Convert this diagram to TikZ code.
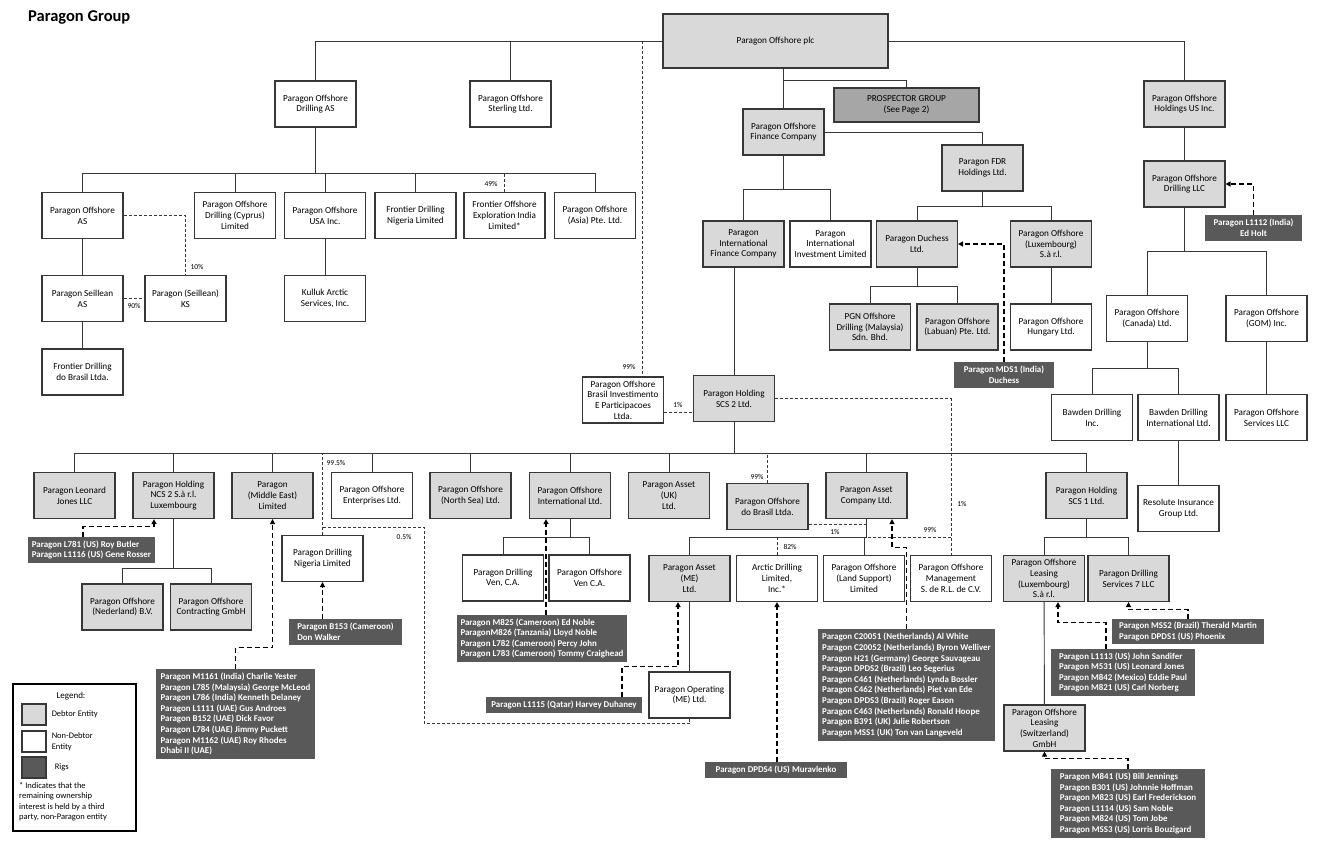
\documentclass[tikz,border=0pt]{standalone}
\usepackage{fontspec}
\setmainfont{Carlito}
\usepackage{xcolor}
\usepackage{tikz}
\usetikzlibrary{positioning,calc,arrows.meta}
\definecolor{DebtGray}{RGB}{217,217,217}
\definecolor{ProspGray}{RGB}{166,166,166}
\definecolor{RigGray}{RGB}{89,89,89}
\definecolor{LineGray}{RGB}{55,55,55}

\begin{document}
\begin{tikzpicture}[x=1pt,y=-1pt]
					\tikzset{
						ent/.style={draw=LineGray, line width=1.1pt, minimum width=81pt, minimum height=46pt,
							inner sep=1pt, align=center, font=\fontsize{9.2}{10.7}\selectfont},
						deb/.style={ent, fill=DebtGray},
						nondeb/.style={ent, fill=white},
						rig/.style={fill=RigGray, text=white, font=\fontsize{8.9}{10.6}\selectfont\bfseries,
							inner xsep=3pt, inner ysep=1pt, align=left},
						e/.style={draw=LineGray, line width=0.9pt},
						own/.style={draw=LineGray, line width=0.7pt, dash pattern=on 3pt off 2pt},
						rarr/.style={draw=black, line width=1.3pt, dash pattern=on 5pt off 3pt,
							-{Triangle[length=5pt,width=5pt]}},
						pct/.style={font=\fontsize{7.5}{9}\selectfont, inner sep=0pt}
					}
					\useasboundingbox (0,0) rectangle (1331,847);
					
					\node[font=\fontsize{16.5}{20}\selectfont\bfseries, anchor=west, inner sep=0pt] (title) at (28,17) {Paragon Group};
					
					\node[deb, minimum width=225pt, minimum height=54pt] (plc) at (775.5,41) {Paragon Offshore plc};
					\node[nondeb] (das) at (315.5,104) {Paragon Offshore\\Drilling AS};
					\node[nondeb] (pos) at (510.5,104) {Paragon Offshore\\Sterling Ltd.};
					\node[deb] (hus) at (1184.5,104) {Paragon Offshore\\Holdings US Inc.};
					\node[ent, fill=ProspGray, minimum width=145pt, minimum height=34pt] (prosp) at (906.5,105) {PROSPECTOR GROUP\\(See Page 2)};
					\node[deb] (pofc) at (783.5,132) {Paragon Offshore\\Finance Company};
					\node[deb] (fdr) at (982.5,168) {Paragon FDR\\Holdings Ltd.};
					\node[deb] (llc) at (1184.5,184) {Paragon Offshore\\Drilling LLC};
					\node[rig, align=center, minimum width=97pt, minimum height=26pt] (r1112) at (1253.5,228) {Paragon L1112 (India)\\Ed Holt};
					
					\node[nondeb] (oas) at (82.5,215.5) {Paragon Offshore\\AS};
					\node[nondeb] (cyp) at (235,215.5) {Paragon Offshore\\Drilling (Cyprus)\\Limited};
					\node[nondeb] (usa) at (325,215.5) {Paragon Offshore\\USA Inc.};
					\node[nondeb] (fdn) at (415.5,215.5) {Frontier Drilling\\Nigeria Limited};
					\node[nondeb] (foe) at (504.5,215.5) {Frontier Offshore\\Exploration India\\Limited*};
					\node[nondeb] (asia) at (595,215.5) {Paragon Offshore\\(Asia) Pte. Ltd.};
					\node[deb] (pifc) at (743.5,244) {Paragon\\International\\Finance Company};
					\node[nondeb] (piil) at (830.5,244) {Paragon\\International\\Investment Limited};
					\node[deb] (duch) at (917,244) {Paragon Duchess\\Ltd.};
					\node[deb] (lux) at (1051,244) {Paragon Offshore\\(Luxembourg)\\S.à r.l.};
					
					\node[nondeb] (sas) at (82.5,298.5) {Paragon Seillean\\AS};
					\node[nondeb] (sks) at (185.5,298.5) {Paragon (Seillean)\\KS};
					\node[nondeb] (kul) at (325,298.5) {Kulluk Arctic\\Services, Inc.};
					\node[nondeb] (can) at (1147,318.5) {Paragon Offshore\\(Canada) Ltd.};
					\node[nondeb] (gom) at (1266.5,318.5) {Paragon Offshore\\(GOM) Inc.};
					\node[deb] (pgn) at (870,327) {PGN Offshore\\Drilling (Malaysia)\\Sdn. Bhd.};
					\node[deb] (lab) at (957.5,327) {Paragon Offshore\\(Labuan) Pte. Ltd.};
					\node[nondeb] (hun) at (1051,327) {Paragon Offshore\\Hungary Ltd.};
					\node[nondeb] (fdb) at (82.5,372) {Frontier Drilling\\do Brasil Ltda.};
					\node[rig, align=center, minimum width=100pt, minimum height=26pt] (rmds1) at (1004,375) {Paragon MDS1 (India)\\Duchess};
					\node[nondeb] (brinv) at (623,400) {Paragon Offshore\\Brasil Investimento\\E Participacoes\\Ltda.};
					\node[deb] (hscs2) at (734,398.5) {Paragon Holding\\SCS 2 Ltd.};
					\node[nondeb] (bdi) at (1092,417.5) {Bawden Drilling\\Inc.};
					\node[nondeb] (bdii) at (1178.5,417.5) {Bawden Drilling\\International Ltd.};
					\node[nondeb] (poss) at (1266.5,417.5) {Paragon Offshore\\Services LLC};
					
					\node[deb] (plj) at (74.5,495.5) {Paragon Leonard\\Jones LLC};
					\node[deb] (ncs2) at (173.5,495.5) {Paragon Holding\\NCS 2 S.à r.l.\\Luxembourg};
					\node[deb] (pme) at (272.5,495.5) {Paragon\\(Middle East)\\Limited};
					\node[nondeb] (poe) at (372,495.5) {Paragon Offshore\\Enterprises Ltd.};
					\node[deb] (pns) at (470.5,495.5) {Paragon Offshore\\(North Sea) Ltd.};
					\node[deb] (poi) at (570,495.5) {Paragon Offshore\\International Ltd.};
					\node[deb] (pauk) at (669,495.5) {Paragon Asset\\(UK)\\Ltd.};
					\node[deb] (pdb) at (767.5,506.5) {Paragon Offshore\\do Brasil Ltda.};
					\node[deb] (pac) at (866.5,495.5) {Paragon Asset\\Company Ltd.};
					\node[deb] (hscs1) at (1086.5,495.5) {Paragon Holding\\SCS 1 Ltd.};
					\node[nondeb] (res) at (1178.5,508.5) {Resolute Insurance\\Group Ltd.};
					\node[rig, minimum width=127pt, minimum height=26pt] (r781) at (91.5,550) {Paragon L781 (US) Roy Butler\\Paragon L1116 (US) Gene Rosser};
					\node[nondeb] (pdn) at (322.5,558.5) {Paragon Drilling\\Nigeria Limited};
					
					\node[nondeb] (pdv) at (503,578) {Paragon Drilling\\Ven, C.A.};
					\node[nondeb] (pov) at (589.5,578) {Paragon Offshore\\Ven C.A.};
					\node[deb] (pame) at (689.5,578.5) {Paragon Asset\\(ME)\\Ltd.};
					\node[nondeb] (arc) at (777,578.5) {Arctic Drilling\\Limited,\\Inc.*};
					\node[nondeb] (pls) at (864,578.5) {Paragon Offshore\\(Land Support)\\Limited};
					\node[nondeb] (pom) at (951,578.5) {Paragon Offshore\\Management\\S. de R.L. de C.V.};
					\node[deb] (pll) at (1044,578.5) {Paragon Offshore\\Leasing\\(Luxembourg)\\S.à r.l.};
					\node[deb] (pds7) at (1128.5,578.5) {Paragon Drilling\\Services 7 LLC};
					\node[deb] (ned) at (122.5,607) {Paragon Offshore\\(Nederland) B.V.};
					\node[deb] (cgm) at (211,607) {Paragon Offshore\\Contracting GmbH};
					
					\node[rig, minimum width=113pt, minimum height=26pt] (r153) at (345.5,632) {Paragon B153 (Cameroon)\\Don Walker};
					\node[rig, minimum width=170pt, minimum height=47pt] (r825) at (542,638.5) {Paragon M825 (Cameroon) Ed Noble\\ParagonM826 (Tanzania) Lloyd Noble\\Paragon L782 (Cameroon) Percy John\\Paragon L783 (Cameroon) Tommy Craighead};
					\node[rig, minimum width=152pt, minimum height=25pt] (rmss2) at (1188,631.5) {Paragon MSS2 (Brazil) Therald Martin\\Paragon DPDS1 (US) Phoenix};
					\node[rig, minimum width=177pt, minimum height=112pt] (rc) at (906.5,685) {Paragon C20051 (Netherlands) Al White\\Paragon C20052 (Netherlands) Byron Welliver\\Paragon H21 (Germany) George Sauvageau\\Paragon DPDS2 (Brazil) Leo Segerius\\Paragon C461 (Netherlands) Lynda Bossler\\Paragon C462 (Netherlands) Piet van Ede\\Paragon DPDS3 (Brazil) Roger Eason\\Paragon C463 (Netherlands) Ronald Hoope\\Paragon B391 (UK) Julie Robertson\\Paragon MSS1 (UK) Ton van Langeveld};
					\node[rig, minimum width=144pt, minimum height=47pt] (r1113) at (1123,672.5) {Paragon L1113 (US) John Sandifer\\Paragon M531 (US) Leonard Jones\\Paragon M842 (Mexico) Eddie Paul\\Paragon M821 (US) Carl Norberg};
					\node[nondeb] (pop) at (689.5,695) {Paragon Operating\\(ME) Ltd.};
					\node[rig, align=center, minimum width=156pt, minimum height=16pt] (r1115) at (564,705) {Paragon L1115 (Qatar) Harvey Duhaney};
					\node[rig, minimum width=159pt, minimum height=90pt] (r1161) at (235.5,714) {Paragon M1161 (India) Charlie Yester\\Paragon L785 (Malaysia) George McLeod\\Paragon L786 (India) Kenneth Delaney\\Paragon L1111 (UAE) Gus Androes\\Paragon B152 (UAE) Dick Favor\\Paragon L784 (UAE) Jimmy Puckett\\Paragon M1162 (UAE) Roy Rhodes\\Dhabi II (UAE)};
					\node[deb] (plsw) at (1044.5,728) {Paragon Offshore\\Leasing\\(Switzerland)\\GmbH};
					\node[rig, align=center, minimum width=142pt, minimum height=16pt] (rdpds4) at (776,770) {Paragon DPDS4 (US) Muravlenko};
					\node[rig, minimum width=154pt, minimum height=69pt] (r841) at (1128,803.5) {Paragon M841 (US) Bill Jennings\\Paragon B301 (US) Johnnie Hoffman\\Paragon M823 (US) Earl Frederickson\\Paragon L1114 (US) Sam Noble\\Paragon M824 (US) Tom Jobe\\Paragon MSS3 (US) Lorris Bouzigard};
					
					\node[draw=black, line width=1.6pt, minimum width=123pt, minimum height=147pt] (leg) at (74.5,757.5) {};
					\node[font=\fontsize{9}{10.7}\selectfont] (legt) at (71,696) {Legend:};
					\node[ent, fill=DebtGray, minimum width=24pt, minimum height=21pt] (ld) at (34,714.5) {};
					\node[ent, fill=white, minimum width=24pt, minimum height=21pt] (ln) at (34,741.5) {};
					\node[ent, fill=RigGray, minimum width=24pt, minimum height=21pt] (lr) at (34,767.5) {};
					\node[right=5pt of ld, align=left, inner sep=0pt, font=\fontsize{8.5}{10.5}\selectfont] (ldt) {Debtor Entity};
					\node[right=5pt of ln, align=left, inner sep=0pt, font=\fontsize{8.5}{10.5}\selectfont] (lnt) {Non-Debtor\\Entity};
					\node[right=8pt of lr, align=left, inner sep=0pt, font=\fontsize{8.5}{10.5}\selectfont] (lrt) {Rigs};
					\node[anchor=north west, align=left, inner sep=0pt, font=\fontsize{8.5}{10.5}\selectfont] (lnote) at (19,782) {* Indicates that the\\remaining ownership\\interest is held by a third\\party, non-Paragon entity};
					
					\coordinate (b1) at (0,173);
					\coordinate (b2) at (0,189);
					\coordinate (b3) at (0,206);
					\coordinate (b4) at (0,251);
					\coordinate (b7) at (0,286);
					\coordinate (b8) at (0,368);
					\coordinate (b5) at (0,453);
					\coordinate (b6) at (0,537);
					\coordinate (b9) at (0,568);
					\coordinate (jp) at (783.5,80);
					\coordinate (d99) at (642,41);
					\coordinate (j05) at (424,527);
					
					\draw[e] (das.north) |- (plc.west);
					\draw[e] (pos.north) -- (pos.north |- plc.west);
					\draw[e] (plc.east) -| (hus.north);
					\draw[e] (plc.south -| pofc.north) -- (pofc.north);
					\draw[e] (jp) -| (prosp.north);
					\draw[e] (pofc.east) -| (fdr.north);
					\draw[e] (pofc.south) -- (pofc.south |- b2);
					\draw[e] (pifc.north) -- (pifc.north |- b2) -| (piil.north);
					\draw[e] (fdr.south) -- (fdr.south |- b3);
					\draw[e] (duch.north) -- (duch.north |- b3) -| (lux.north);
					\draw[e] (duch.south) -- (duch.south |- b7);
					\draw[e] (pgn.north) -- (pgn.north |- b7) -| (lab.north);
					\draw[e] (lux) -- (hun);
					\draw[e] (hus) -- (llc);
					\draw[e] (llc.south) -- (llc.south |- b4);
					\draw[e] (can.north) -- (can.north |- b4) -| (gom.north);
					\draw[e] (can.south) -- (can.south |- b8);
					\draw[e] (bdi.north) -- (bdi.north |- b8) -| (bdii.north);
					\draw[e] (bdii) -- (res);
					\draw[e] (gom) -- (poss);
					\draw[rarr] (r1112.north) |- (llc.east);
					\draw[rarr] (rmds1.north) |- (duch.east);
					
					\draw[e] (das.south) -- (das.south |- b1);
					\draw[e] (oas.north) -- (oas.north |- b1) -| (asia.north);
					\foreach \nm in {cyp,usa,fdn}
						\draw[e] (\nm.north) -- (\nm.north |- b1);
					\draw[own] (foe.north) -- (foe.north |- b1);
					\draw[e] (oas) -- (sas);
					\draw[e] (sas) -- (fdb);
					\draw[e] (usa) -- (kul);
					\draw[own] (oas.east) -| (sks.north);
					\draw[own] (sas.east) -- (sks.west);
					\draw[own] (d99) -- (d99 |- brinv.north);
					
					\draw[e] (hscs2.north) -- (hscs2.north |- pifc.south);
					\draw[own] (brinv.east |- 0,412) -- (hscs2.west |- 0,412);
					\draw[e] (hscs2.south) -- (hscs2.south |- b5);
					\draw[e] (plj.north) -- (plj.north |- b5) -| (hscs1.north);
					\foreach \nm in {ncs2,pme,poe,pns,poi,pauk,pac}
						\draw[e] (\nm.north) -- (\nm.north |- b5);
					\draw[own] (pdb.north) -- (pdb.north |- b5);
					\draw[own] (pdn.north) -- (pdn.north |- b5);
					\draw[own] (hscs2.east) -| (pom.north);
					\draw[own] (pop.south) -- ++(0,5) -| (j05) -- (j05 -| pdn.north);
					
					\draw[e] (ncs2.south) -- (ncs2.south |- b9);
					\draw[e] (ned.north) -- (ned.north |- b9) -| (cgm.north);
					\draw[e] (poi.south) -- (poi.south |- b6);
					\draw[e] (pdv.north) -- (pdv.north |- b6) -| (pov.north);
					\draw[e] (pac.south) -- (pac.south |- b6) -| (pame.north);
					\draw[e] (pls.north) -- (pls.north |- b6);
					\draw[e] (pame) -- (pop);
					\draw[own] (arc.north) -- (arc.north |- b6);
					\draw[own] (pom.north |- b6) -- (pac.south |- b6);
					\draw[own] (pdb.east |- 0,524) -- (pac.south |- 0,524);
					\draw[e] (hscs1.south) -- (hscs1.south |- b6);
					\draw[e] (pll.north) -- (pll.north |- b6) -| (pds7.north);
					\draw[e] (pll) -- (plsw);
					
					\draw[rarr] ($(r781.north)+(-8.5,0)$) -- ++(0,-10) -| ($(ncs2.south)+(-19.5,0)$);
					\draw[rarr] (r1161.north) -- ++(0,-21) -| (pme.south);
					\draw[rarr] (r153.north -| pdn.south) -- (pdn.south);
					\draw[rarr] ($(r825.north)+(4,0)$) -- ($(poi.south)+(-24,0)$);
					\draw[rarr] ($(r1115.north)+(58,0)$) -- ++(0,-30) -| ($(pame.south)+(-11.5,0)$);
					\draw[rarr] (rdpds4.north -| arc.south) -- (arc.south);
					\draw[rarr] (rc.north) -- ++(0,-81) -| ($(pac.south)+(25.5,0)$);
					\draw[rarr] ($(r1113.north)+(-17,0)$) -- ++(0,-26) -| ($(pll.south)+(14,0)$);
					\draw[rarr] (rmss2.north) -- ++(0,-9) -| (pds7.south);
					\draw[rarr] (r841.north) -- ++(0,-10) -| (plsw.south);
					
					\node[pct] (l49) at (491,184) {49\%};
					\node[pct] (l10) at (197,267) {10\%};
					\node[pct] (l90) at (134,306) {90\%};
					\node[pct] (l99a) at (629,367) {99\%};
					\node[pct] (l1a) at (678,405) {1\%};
					\node[pct] (l995) at (336,463) {99.5\%};
					\node[pct] (l99b) at (757,477) {99\%};
					\node[pct] (l1b) at (962,504) {1\%};
					\node[pct] (l05) at (404,537) {0.5\%};
					\node[pct] (l99c) at (930,530) {99\%};
					\node[pct] (l1c) at (835,532) {1\%};
					\node[pct] (l82) at (790,547) {82\%};
				\end{tikzpicture}
\end{document}
